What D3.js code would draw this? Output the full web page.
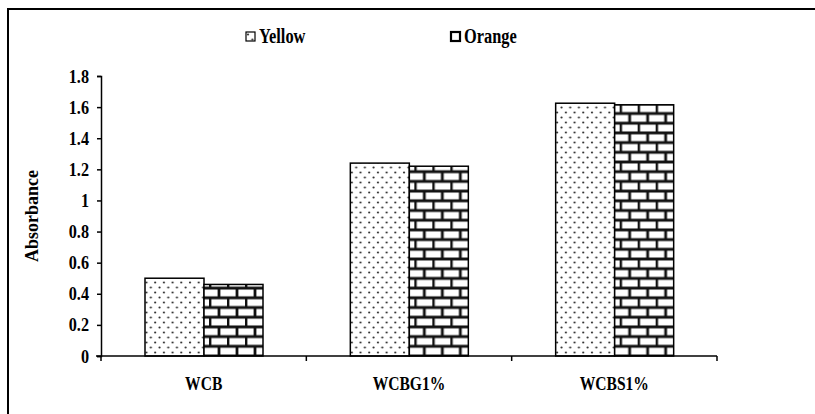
<!DOCTYPE html>
<html>
<head>
<meta charset="utf-8">
<script src="https://cdn.jsdelivr.net/npm/d3@7"></script>
<style>
  body { margin: 0; background: #fff; overflow: hidden; }
  svg { display: block; }
</style>
</head>
<body>
<div id="chart"></div>
<script>
const categories = ["WCB", "WCBG1%", "WCBS1%"];
const seriesNames = ["Yellow", "Orange"];
const yellowValues = [0.50, 1.24, 1.625];
const orangeValues = [0.46, 1.22, 1.615];
const yTicks = [0, 0.2, 0.4, 0.6, 0.8, 1, 1.2, 1.4, 1.6, 1.8];

const FONT = "'Liberation Serif', 'Times New Roman', 'DejaVu Serif', serif";
const width = 815, height = 414;
const svg = d3.select("#chart").append("svg")
    .attr("width", width)
    .attr("height", height);

const defs = svg.append("defs");

// dotted fill
const dots = defs.append("pattern")
    .attr("id", "dots")
    .attr("patternUnits", "userSpaceOnUse")
    .attr("width", 8.7).attr("height", 10);
dots.append("rect").attr("width", 8.7).attr("height", 10).attr("fill", "#fff");
dots.append("circle").attr("cx", 2).attr("cy", 2.5).attr("r", 1.1).attr("fill", "#333");
dots.append("circle").attr("cx", 6.35).attr("cy", 7.5).attr("r", 1.1).attr("fill", "#333");

// brick fill
const bw = 18, bh = 9.7;
const bricks = defs.append("pattern")
    .attr("id", "bricks")
    .attr("patternUnits", "userSpaceOnUse")
    .attr("width", bw).attr("height", bh * 2)
    .attr("y", 356);
bricks.append("rect").attr("width", bw).attr("height", bh * 2).attr("fill", "#fff");
bricks.append("path")
    .attr("d", `M0,0H${bw}M0,${bh}H${bw}M0,${bh*2}H${bw}M1,0V${bh}M${bw/2+1},${bh}V${bh*2}`)
    .attr("stroke", "#111").attr("stroke-width", 2.8).attr("fill", "none");

const fills = {Yellow: "url(#dots)", Orange: "url(#bricks)"};

// outer frame: only top and left edges fall inside the window
svg.append("path")
    .attr("d", `M8,${height + 5}V9H${width + 5}`)
    .attr("fill", "none").attr("stroke", "#000").attr("stroke-width", 2);

const x = d3.scaleBand().domain(categories).range([101, 717]);
const xs = d3.scaleBand().domain(seriesNames).range([44, 162]);
const y = d3.scaleLinear().domain([0, 1.8]).range([356, 76]);

const table = categories.map((c, i) => ({cat: c, Yellow: yellowValues[i], Orange: orangeValues[i]}));

const groups = svg.append("g").selectAll("g")
    .data(table).enter().append("g")
    .attr("transform", d => `translate(${x(d.cat)},0)`);

groups.selectAll("rect")
    .data(d => seriesNames.map(s => ({s: s, v: d[s]})))
    .enter().append("rect")
    .attr("x", d => xs(d.s))
    .attr("y", d => y(d.v))
    .attr("width", xs.bandwidth())
    .attr("height", d => y(0) - y(d.v))
    .attr("fill", d => fills[d.s])
    .attr("stroke", "#000")
    .attr("stroke-width", 1.5);

// y axis
const yAxis = svg.append("g")
    .attr("transform", "translate(101,0)")
    .call(d3.axisLeft(y).tickValues(yTicks).tickSize(4).tickFormat(d3.format("")));
yAxis.selectAll("text").remove();
yAxis.selectAll(".tick").append("text")
    .attr("transform", "translate(-12,6) scale(0.9,1)")
    .attr("text-anchor", "end")
    .attr("font-family", FONT).attr("font-weight", "bold")
    .attr("font-size", 18).attr("fill", "#000")
    .text(d => d3.format("")(d));
yAxis.select(".domain").attr("stroke-width", 1.5);
yAxis.selectAll(".tick line").attr("stroke-width", 1.5);

// x axis with ticks at band edges
const xAxis = svg.append("g").attr("transform", "translate(0,356)");
xAxis.append("line").attr("x1", 96).attr("x2", 717).attr("stroke", "#000").attr("stroke-width", 1.5);
xAxis.selectAll(".edge")
    .data(categories.concat([null]))
    .enter().append("line")
    .attr("x1", (d, i) => i < categories.length ? x(d) : x.range()[1])
    .attr("x2", (d, i) => i < categories.length ? x(d) : x.range()[1])
    .attr("y1", 0).attr("y2", 5)
    .attr("stroke", "#000").attr("stroke-width", 1.5);
xAxis.selectAll(".lab")
    .data(categories)
    .enter().append("text")
    .attr("transform", d => `translate(${x(d) + x.bandwidth() / 2},34) scale(0.82,1)`)
    .attr("text-anchor", "middle")
    .attr("font-family", FONT).attr("font-weight", "bold")
    .attr("font-size", 19)
    .text(d => d);

// y label
svg.append("text")
    .attr("transform", "translate(38,216) rotate(-90)")
    .attr("text-anchor", "middle")
    .attr("font-family", FONT).attr("font-weight", "bold")
    .attr("font-size", 18)
    .text("Absorbance");

// legend
const legendX = [246, 451];
const legend = svg.append("g").selectAll("g")
    .data(seriesNames).enter().append("g")
    .attr("transform", (d, i) => `translate(${legendX[i]},32)`);
legend.append("rect")
    .attr("width", 9).attr("height", 9)
    .attr("fill", d => d === "Yellow" ? "url(#dots)" : "#fff")
    .attr("stroke", "#000")
    .attr("stroke-width", d => d === "Yellow" ? 1.2 : 2.2);
legend.append("text")
    .attr("transform", "translate(13,11) scale(0.82,1)")
    .attr("font-family", FONT).attr("font-weight", "bold")
    .attr("font-size", 20)
    .text(d => d);
</script>
</body>
</html>
